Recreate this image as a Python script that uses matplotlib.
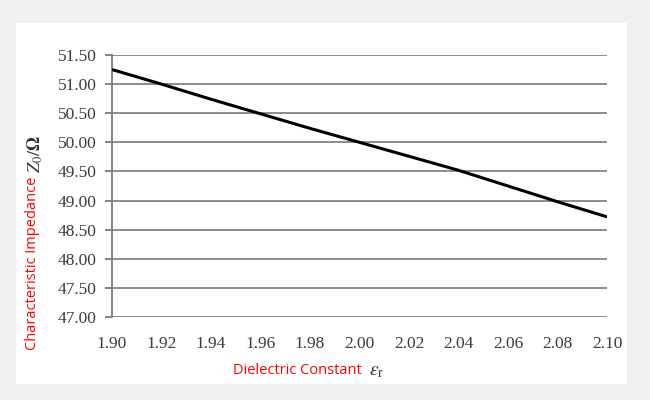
import matplotlib
matplotlib.use("Agg")
import matplotlib.pyplot as plt
from matplotlib.patches import Rectangle

# Data
eps_r = [1.90, 1.92, 1.94, 1.96, 1.98, 2.00, 2.02, 2.04, 2.06, 2.08, 2.10]
z0 = [51.25, 51.00, 50.74, 50.49, 50.24, 50.00, 49.76, 49.52, 49.25, 48.98, 48.72]
x_ticks = [1.90, 1.92, 1.94, 1.96, 1.98, 2.00, 2.02, 2.04, 2.06, 2.08, 2.10]
y_ticks = [47.00, 47.50, 48.00, 48.50, 49.00, 49.50, 50.00, 50.50, 51.00, 51.50]

plt.rcParams['mathtext.fontset'] = 'stix'

W, H = 650, 400
fig = plt.figure(figsize=(W / 100, H / 100), dpi=100)
fig.patch.set_facecolor('#f0f0f0')

# white panel
fig.patches.append(Rectangle((16 / W, 1 - 384 / H), (627 - 16) / W, (384 - 23) / H,
                             transform=fig.transFigure, facecolor='white',
                             edgecolor='none', zorder=-5))

ax = fig.add_axes([112 / W, 1 - 317 / H, (607 - 112) / W, (317 - 55) / H])
ax.set_zorder(5)
ax.set_facecolor('none')

ax.plot(eps_r, z0, color='black', lw=2.2, solid_capstyle='butt', zorder=3)

ax.set_xlim(1.90, 2.10)
ax.set_ylim(47.0, 51.5)
ax.set_yticks(y_ticks)
ax.set_yticklabels([f"{v:.2f}" for v in y_ticks])
ax.set_xticks(x_ticks)
ax.set_xticklabels([f"{v:.2f}" for v in x_ticks])

ax.grid(axis='y', color='#8c8c8c', lw=1.4)
ax.grid(axis='x', visible=False)
ax.set_axisbelow(True)
for s in ['top', 'right', 'bottom']:
    ax.spines[s].set_visible(False)
ax.spines['left'].set_color('#7a7a7a')
ax.spines['left'].set_linewidth(1.3)

ax.tick_params(axis='y', length=5, width=1.3, color='#7a7a7a', pad=6,
               labelsize=12.5, labelcolor='#3c3c3c')
ax.tick_params(axis='x', length=0, pad=14, labelsize=12.5, labelcolor='#3c3c3c')
for lab in ax.get_xticklabels() + ax.get_yticklabels():
    lab.set_fontfamily('Liberation Serif')

# axis labels
fig.text(33 / W, 1 - 263 / H, 'Characteristic Impedance', rotation=90,
         color='red', fontsize=10.5, family='Open Sans', ha='center', va='center')
fig.text(35 / W, 1 - 154 / H, r'$Z_0/\mathbf{\Omega}$', rotation=90,
         color='#303030', fontsize=13, ha='center', va='center')
fig.text(297 / W, 1 - 370 / H, 'Dielectric Constant', color='red',
         fontsize=10.5, family='Open Sans', ha='center', va='center')
fig.text(377 / W, 1 - 371 / H, r'$\varepsilon_\mathrm{r}$', color='#303030',
         fontsize=14, ha='center', va='center')

fig.savefig('out.png', dpi=100, facecolor=fig.get_facecolor())
